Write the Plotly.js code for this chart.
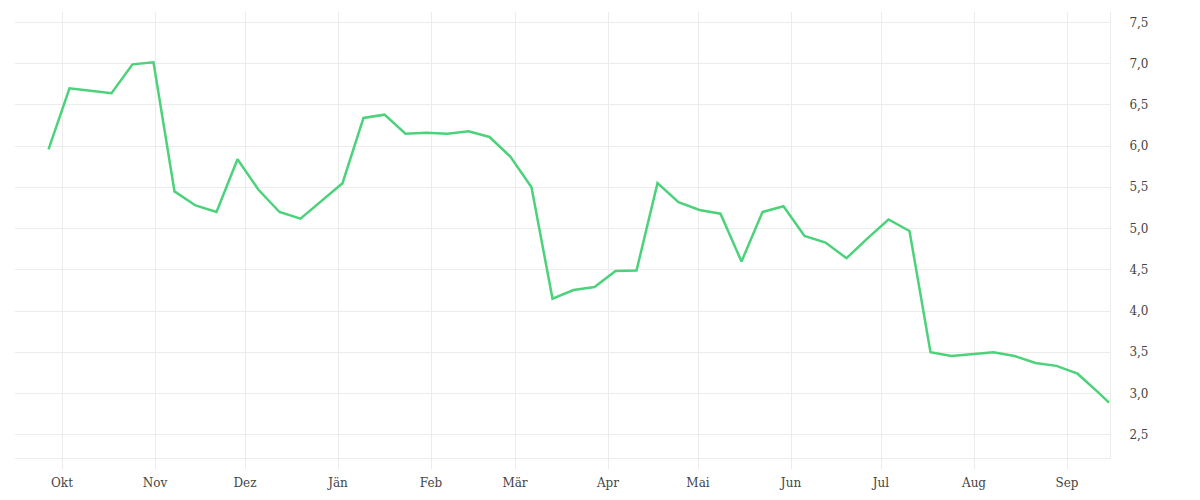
<!DOCTYPE html>
<html>
<head>
<meta charset="utf-8">
<script src="https://cdn.plot.ly/plotly-3.0.1.min.js"></script>
<style>
  html, body { margin: 0; padding: 0; background: #fff; }
  #chart { width: 1200px; height: 500px; }
</style>
</head>
<body>
<div id="chart"></div>
<script>
  // weekly values (Monday noon), last point is the current day
  var dates = [
    '2022-09-26 12:00', '2022-10-03 12:00', '2022-10-10 12:00', '2022-10-17 12:00', '2022-10-24 12:00', '2022-10-31 12:00',
    '2022-11-07 12:00', '2022-11-14 12:00', '2022-11-21 12:00', '2022-11-28 12:00', '2022-12-05 12:00', '2022-12-12 12:00',
    '2022-12-19 12:00', '2022-12-26 12:00', '2023-01-02 12:00', '2023-01-09 12:00', '2023-01-16 12:00', '2023-01-23 12:00',
    '2023-01-30 12:00', '2023-02-06 12:00', '2023-02-13 12:00', '2023-02-20 12:00', '2023-02-27 12:00', '2023-03-06 12:00',
    '2023-03-13 12:00', '2023-03-20 12:00', '2023-03-27 12:00', '2023-04-03 12:00', '2023-04-10 12:00', '2023-04-17 12:00',
    '2023-04-24 12:00', '2023-05-01 12:00', '2023-05-08 12:00', '2023-05-15 12:00', '2023-05-22 12:00', '2023-05-29 12:00',
    '2023-06-05 12:00', '2023-06-12 12:00', '2023-06-19 12:00', '2023-06-26 12:00', '2023-07-03 12:00', '2023-07-10 12:00',
    '2023-07-17 12:00', '2023-07-24 12:00', '2023-07-31 12:00', '2023-08-07 12:00', '2023-08-14 12:00', '2023-08-21 12:00',
    '2023-08-28 12:00', '2023-09-04 12:00', '2023-09-11 12:00', '2023-09-15 00:00'
  ];
  var values = [
    5.96, 6.70, 6.67, 6.64, 6.99, 7.015,
    5.45, 5.28, 5.20, 5.84, 5.47, 5.20,
    5.12, 5.34, 5.55, 6.34, 6.38, 6.15,
    6.16, 6.15, 6.18, 6.11, 5.87, 5.50,
    4.15, 4.255, 4.29, 4.485, 4.49, 5.55,
    5.32, 5.225, 5.18, 4.60, 5.20, 5.27,
    4.91, 4.83, 4.64, 4.88, 5.11, 4.97,
    3.50, 3.455, 3.48, 3.50, 3.455, 3.37,
    3.335, 3.24, 3.01, 2.89
  ];

  var monthTicks = [
    '2022-10-01', '2022-11-01', '2022-12-01', '2023-01-01', '2023-02-01', '2023-03-01',
    '2023-04-01', '2023-05-01', '2023-06-01', '2023-07-01', '2023-08-01', '2023-09-01'
  ];
  var monthLabels = ['Okt', 'Nov', 'Dez', 'Jän', 'Feb', 'Mär', 'Apr', 'Mai', 'Jun', 'Jul', 'Aug', 'Sep'];

  var series = {
    x: dates,
    y: values,
    mode: 'lines',
    line: {
      color: '#4cd27b',
      width: 2.5
    },
    hoverinfo: 'x+y',
    type: 'scatter'
  };

  var layout = {
    width: 1200,
    height: 500,
    margin: { l: 15, r: 90, t: 12, b: 42 },
    paper_bgcolor: '#ffffff',
    plot_bgcolor: '#ffffff',
    separators: ',.',
    showlegend: false,
    font: { family: 'DejaVu Serif, serif', size: 12, color: '#444' },
    xaxis: {
      type: 'date',
      range: ['2022-09-15 08:00', '2023-09-15 08:00'],
      tickmode: 'array',
      tickvals: monthTicks,
      ticktext: monthLabels,
      showgrid: true,
      gridcolor: '#ececec',
      gridwidth: 1,
      ticks: 'outside',
      ticklen: 10,
      tickcolor: '#ececec',
      ticklabelstandoff: 4,
      showline: true,
      linecolor: '#ececec',
      zeroline: false
    },
    yaxis: {
      side: 'right',
      range: [2.218, 7.625],
      tickvals: [2.5, 3, 3.5, 4, 4.5, 5, 5.5, 6, 6.5, 7, 7.5],
      tickformat: '.1f',
      showgrid: true,
      gridcolor: '#ececec',
      gridwidth: 1,
      ticks: '',
      ticklabelstandoff: 16,
      showline: true,
      linecolor: '#ececec',
      zeroline: false
    }
  };

  Plotly.newPlot('chart', [series], layout, { displayModeBar: false, staticPlot: true });
</script>
</body>
</html>
